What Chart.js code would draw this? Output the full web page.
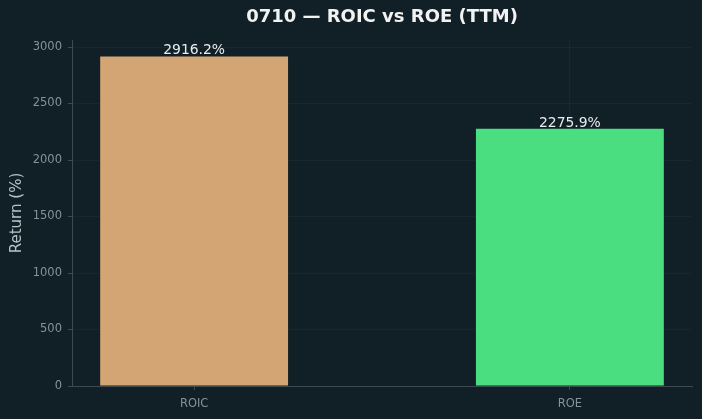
<!DOCTYPE html>
<html>
<head>
<meta charset="utf-8">
<script src="https://cdn.jsdelivr.net/npm/chart.js@4/dist/chart.umd.min.js"></script>
<style>
html,body{margin:0;padding:0;background:#111f26;}
#wrap{width:702px;height:419px;}
</style>
</head>
<body>
<div id="wrap"><canvas id="c" width="702" height="419"></canvas></div>
<script>
const titleText = '0710 \u2014 ROIC vs ROE (TTM)';
const categories = ['ROIC', 'ROE'];
const values = [2916.2, 2275.9];
const barColors = ['#d4a574', '#4ade80'];
const yTicks = [0, 500, 1000, 1500, 2000, 2500, 3000];
const yMax = 3062;
const yTitle = 'Return (%)';

const FONT = "'DejaVu Sans', sans-serif";
const gridColor = 'rgba(70,80,85,0.16)';
const spineColor = '#3d4a50';
const tickLabelColor = '#86929a';

const points = categories.map((c, i) => ({x: i, y: values[i]}));

const valueLabels = {
  id: 'valueLabels',
  afterDraw(chart) {
    const ctx = chart.ctx;
    const meta = chart.getDatasetMeta(0);
    ctx.save();
    ctx.font = '13.9px ' + FONT;
    ctx.fillStyle = '#e8ecee';
    ctx.textAlign = 'center';
    ctx.textBaseline = 'alphabetic';
    meta.data.forEach((bar, i) => {
      ctx.fillText(values[i].toFixed(1) + '%', bar.x, bar.y - 2);
    });
    ctx.restore();
  }
};

const bg = {
  id: 'bg',
  beforeDraw(chart) {
    const ctx = chart.ctx;
    ctx.save();
    ctx.fillStyle = '#111f26';
    ctx.fillRect(0, 0, chart.width, chart.height);
    ctx.restore();
  }
};

new Chart(document.getElementById('c'), {
  type: 'bar',
  data: {
    datasets: [{
      data: points,
      backgroundColor: barColors,
      borderWidth: 0,
      barPercentage: 0.5,
      categoryPercentage: 1.0
    }]
  },
  options: {
    responsive: false,
    animation: false,
    devicePixelRatio: 1,
    layout: {padding: {left: 0, right: 10, top: 0, bottom: 0}},
    plugins: {
      legend: {display: false},
      tooltip: {enabled: false},
      title: {
        display: true,
        text: titleText,
        fullSize: false,
        color: '#f2f2f2',
        font: {family: FONT, size: 18, weight: 'bold'},
        padding: {top: 7, bottom: 11.4}
      }
    },
    scales: {
      x: {
        type: 'linear',
        min: -0.325,
        max: 1.325,
        offset: false,
        z: 1,
        afterBuildTicks(scale) {
          scale.ticks = categories.map((c, i) => ({value: i}));
        },
        afterFit(scale) { scale.height = 33; },
        ticks: {
          color: tickLabelColor,
          font: {family: FONT, size: 11.5},
          padding: 7,
          maxRotation: 0,
          callback: (v) => categories[v] !== undefined ? categories[v] : ''
        },
        grid: {offset: false, color: gridColor, tickColor: spineColor, tickLength: 4, lineWidth: 1},
        border: {color: spineColor, width: 1}
      },
      y: {
        type: 'linear',
        min: 0,
        max: yMax,
        z: 1,
        afterBuildTicks(scale) {
          scale.ticks = yTicks.map(v => ({value: v}));
        },
        afterFit(scale) { scale.width = 72; },
        ticks: {
          color: tickLabelColor,
          font: {family: FONT, size: 11.5},
          padding: 6,
          callback: (v) => String(v)
        },
        grid: {color: gridColor, tickColor: spineColor, tickLength: 4, lineWidth: 1},
        border: {color: spineColor, width: 1},
        title: {
          display: true,
          text: yTitle,
          color: '#b8c2c6',
          font: {family: FONT, size: 15},
          padding: {top: 8, bottom: 4}
        }
      }
    }
  },
  plugins: [bg, valueLabels]
});
</script>
</body>
</html>
